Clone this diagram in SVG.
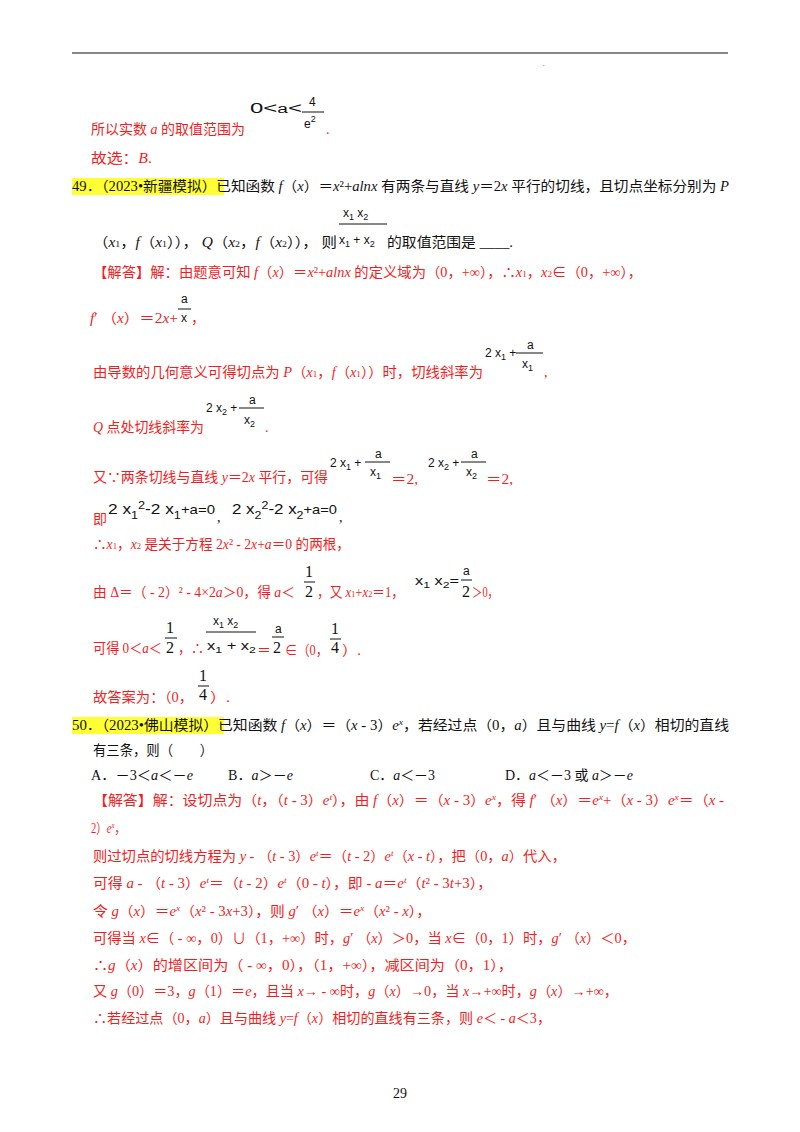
<svg xmlns="http://www.w3.org/2000/svg" width="800" height="1132" viewBox="0 0 800 1132">
<style>
text{font-family:"Liberation Serif","Noto Sans CJK SC",serif;font-size:14px}
.r{fill:#f01e1e}
.k{fill:#111}
.m{font-family:"Liberation Sans",sans-serif;font-size:12px;fill:#111}
.b{font-family:"Liberation Sans",sans-serif;font-size:15px;fill:#111}
.n{font-family:"Liberation Serif",serif;font-size:16px;fill:#111}
.sub{font-size:9px}
.i{font-style:italic}
line.f{stroke:#111;stroke-width:1}
</style>
<rect width="800" height="1132" fill="#fff"/>
<line x1="72" y1="53" x2="728" y2="53" stroke="#111" stroke-width="1.2"/>
<text x="543" y="66" style="font-size:6px" class="k">.</text>

<g id="prev">
<text x="250" y="113" class="b" textLength="52" lengthAdjust="spacingAndGlyphs">0&lt;<tspan font-size="12">a</tspan>&lt;</text>
<text x="309" y="106" class="m">4</text>
<line class="f" x1="302" y1="112" x2="324" y2="112"/>
<text x="304" y="128" class="m">e<tspan dy="-6" font-size="9">2</tspan></text>
<text x="91" y="134" class="r" textLength="154" lengthAdjust="spacingAndGlyphs">所以实数 <tspan class="i">a</tspan> 的取值范围为</text>
<text x="326" y="134" class="r">.</text>
<text x="91" y="163" class="r" textLength="61" lengthAdjust="spacingAndGlyphs">故选：<tspan class="i">B</tspan>.</text>
</g>

<g id="q49">
<rect x="72" y="178" width="152" height="17" fill="#ffff33"/>
<text x="72" y="191" class="k" textLength="657" lengthAdjust="spacingAndGlyphs">49．（2023•新疆模拟）已知函数 <tspan class="i">f</tspan>（<tspan class="i">x</tspan>）＝<tspan class="i">x</tspan>²+<tspan class="i">alnx</tspan> 有两条与直线 <tspan class="i">y</tspan>＝2<tspan class="i">x</tspan> 平行的切线，且切点坐标分别为 <tspan class="i">P</tspan></text>
<text x="343" y="217" class="m">x<tspan class="sub" dy="3">1</tspan><tspan dy="-3"> x</tspan><tspan class="sub" dy="3">2</tspan></text>
<line class="f" x1="339" y1="224" x2="387" y2="224"/>
<text x="339" y="244" class="m">x<tspan class="sub" dy="3">1</tspan><tspan dy="-3"> + x</tspan><tspan class="sub" dy="3">2</tspan></text>
<text x="93" y="247" class="k" textLength="244" lengthAdjust="spacingAndGlyphs">（<tspan class="i">x</tspan><tspan class="sub">1</tspan>，<tspan class="i">f</tspan>（<tspan class="i">x</tspan><tspan class="sub">1</tspan>））， <tspan class="i">Q</tspan>（<tspan class="i">x</tspan><tspan class="sub">2</tspan>，<tspan class="i">f</tspan>（<tspan class="i">x</tspan><tspan class="sub">2</tspan>））， 则</text>
<text x="387" y="247" class="k" textLength="126" lengthAdjust="spacingAndGlyphs">的取值范围是 ____.</text>
</g>

<g id="a49">
<text x="93" y="277" class="r" textLength="549" lengthAdjust="spacingAndGlyphs">【解答】解：由题意可知 <tspan class="i">f</tspan>（<tspan class="i">x</tspan>）＝<tspan class="i">x</tspan>²+<tspan class="i">alnx</tspan> 的定义域为（0，+∞），∴<tspan class="i">x</tspan><tspan class="sub">1</tspan>，<tspan class="i">x</tspan><tspan class="sub">2</tspan>∈（0，+∞），</text>
<text x="90" y="323" class="r" textLength="88" lengthAdjust="spacingAndGlyphs"><tspan class="i">f</tspan>′ （<tspan class="i">x</tspan>）＝2<tspan class="i">x</tspan>+</text>
<text x="181" y="303" class="m">a</text>
<line class="f" x1="178" y1="309" x2="191" y2="309"/>
<text x="181" y="322" class="m">x</text>
<text x="191" y="323" class="r">，</text>

<text x="93" y="377" class="r" textLength="390" lengthAdjust="spacingAndGlyphs">由导数的几何意义可得切点为 <tspan class="i">P</tspan>（<tspan class="i">x</tspan><tspan class="sub">1</tspan>，<tspan class="i">f</tspan>（<tspan class="i">x</tspan><tspan class="sub">1</tspan>））时，切线斜率为</text>
<text x="485" y="357" class="m">2 x<tspan class="sub" dy="3">1</tspan><tspan dy="-3"> +</tspan></text>
<text x="527" y="349" class="m">a</text>
<line class="f" x1="516" y1="353" x2="543" y2="353"/>
<text x="522" y="368" class="m">x<tspan class="sub" dy="3">1</tspan></text>
<text x="544" y="377" class="r">,</text>

<text x="93" y="432" class="r" textLength="111" lengthAdjust="spacingAndGlyphs"><tspan class="i">Q</tspan> 点处切线斜率为</text>
<text x="206" y="412" class="m">2 x<tspan class="sub" dy="3">2</tspan><tspan dy="-3"> +</tspan></text>
<text x="249" y="404" class="m">a</text>
<line class="f" x1="239" y1="408" x2="264" y2="408"/>
<text x="244" y="424" class="m">x<tspan class="sub" dy="3">2</tspan></text>
<text x="265" y="432" class="r">.</text>

<text x="93" y="482" class="r" textLength="235" lengthAdjust="spacingAndGlyphs">又∵两条切线与直线 <tspan class="i">y</tspan>＝2<tspan class="i">x</tspan> 平行，可得</text>
<text x="330" y="467" class="m">2 x<tspan class="sub" dy="3">1</tspan><tspan dy="-3"> +</tspan></text>
<text x="375" y="458" class="m">a</text>
<line class="f" x1="365" y1="462" x2="390" y2="462"/>
<text x="370" y="476" class="m">x<tspan class="sub" dy="3">1</tspan></text>
<text x="391" y="484" class="r" textLength="27" lengthAdjust="spacingAndGlyphs">＝2,</text>
<text x="428" y="467" class="m">2 x<tspan class="sub" dy="3">2</tspan><tspan dy="-3"> +</tspan></text>
<text x="471" y="458" class="m">a</text>
<line class="f" x1="461" y1="462" x2="486" y2="462"/>
<text x="466" y="476" class="m">x<tspan class="sub" dy="3">2</tspan></text>
<text x="486" y="484" class="r" textLength="27" lengthAdjust="spacingAndGlyphs">＝2,</text>

<text x="93" y="524" class="r">即</text>
<text x="108" y="514" class="b" textLength="107" lengthAdjust="spacingAndGlyphs">2 x<tspan font-size="11" dy="5">1</tspan><tspan font-size="11" dy="-10">2</tspan><tspan dy="5">-2 x</tspan><tspan font-size="11" dy="5">1</tspan><tspan font-size="13" dy="-5">+a=0</tspan></text>
<text x="217" y="522" class="k">,</text>
<text x="232" y="514" class="b" textLength="105" lengthAdjust="spacingAndGlyphs">2 x<tspan font-size="11" dy="5">2</tspan><tspan font-size="11" dy="-10">2</tspan><tspan dy="5">-2 x</tspan><tspan font-size="11" dy="5">2</tspan><tspan font-size="13" dy="-5">+a=0</tspan></text>
<text x="339" y="522" class="k">,</text>
<text x="93" y="549" class="r" textLength="257" lengthAdjust="spacingAndGlyphs">∴<tspan class="i">x</tspan><tspan class="sub">1</tspan>，<tspan class="i">x</tspan><tspan class="sub">2</tspan> 是关于方程 2<tspan class="i">x</tspan>² - 2<tspan class="i">x</tspan>+<tspan class="i">a</tspan>＝0 的两根，</text>

<text x="93" y="597" class="r" textLength="202" lengthAdjust="spacingAndGlyphs">由 Δ＝（ - 2）² - 4×2<tspan class="i">a</tspan>＞0，得 <tspan class="i">a</tspan>＜</text>
<text x="305" y="577" class="n">1</text>
<line class="f" x1="304" y1="582" x2="315" y2="582"/>
<text x="305" y="597" class="n">2</text>
<text x="317" y="597" class="r" textLength="87" lengthAdjust="spacingAndGlyphs">，又 <tspan class="i">x</tspan><tspan class="sub">1</tspan>+<tspan class="i">x</tspan><tspan class="sub">2</tspan>＝1，</text>
<text x="415" y="585" class="m" textLength="44" lengthAdjust="spacingAndGlyphs">x<tspan class="sub" dy="3">1</tspan><tspan dy="-3"> x</tspan><tspan class="sub" dy="3">2</tspan><tspan dy="-3">=</tspan></text>
<text x="463" y="575" class="m">a</text>
<line class="f" x1="461" y1="580" x2="472" y2="580"/>
<text x="462" y="597" class="n">2</text>
<text x="472" y="597" class="r" textLength="26" lengthAdjust="spacingAndGlyphs">＞0，</text>

<text x="93" y="653" class="r" textLength="69" lengthAdjust="spacingAndGlyphs">可得 0＜<tspan class="i">a</tspan>＜</text>
<text x="166" y="633" class="n">1</text>
<line class="f" x1="165" y1="638" x2="177" y2="638"/>
<text x="166" y="653" class="n">2</text>
<text x="178" y="653" class="r" textLength="26" lengthAdjust="spacingAndGlyphs">，∴</text>
<text x="213" y="625" class="m">x<tspan class="sub" dy="3">1</tspan><tspan dy="-3"> x</tspan><tspan class="sub" dy="3">2</tspan></text>
<line class="f" x1="206" y1="632" x2="256" y2="632"/>
<text x="207" y="650" class="m" textLength="49" lengthAdjust="spacingAndGlyphs">x<tspan class="sub" dy="3">1</tspan><tspan dy="-3"> + x</tspan><tspan class="sub" dy="3">2</tspan></text>
<text x="257" y="655" class="r" textLength="14" lengthAdjust="spacingAndGlyphs">＝</text>
<text x="275" y="633" class="m">a</text>
<line class="f" x1="272" y1="637" x2="284" y2="637"/>
<text x="273" y="653" class="n">2</text>
<text x="285" y="655" class="r" textLength="43" lengthAdjust="spacingAndGlyphs">∈（0，</text>
<text x="331" y="634" class="n">1</text>
<line class="f" x1="330" y1="639" x2="341" y2="639"/>
<text x="331" y="653" class="n">4</text>
<text x="342" y="655" class="r" textLength="19" lengthAdjust="spacingAndGlyphs">）.</text>

<text x="93" y="702" class="r" textLength="100" lengthAdjust="spacingAndGlyphs">故答案为：（0，</text>
<text x="199" y="681" class="n">1</text>
<line class="f" x1="198" y1="686" x2="209" y2="686"/>
<text x="199" y="700" class="n">4</text>
<text x="210" y="702" class="r" textLength="20" lengthAdjust="spacingAndGlyphs">）.</text>
</g>

<g id="q50">
<rect x="72" y="717" width="152" height="17" fill="#ffff33"/>
<text x="72" y="730" class="k" textLength="657" lengthAdjust="spacingAndGlyphs">50．（2023•佛山模拟）已知函数 <tspan class="i">f</tspan>（<tspan class="i">x</tspan>）＝（<tspan class="i">x</tspan> - 3）<tspan class="i">e</tspan><tspan class="sub i" dy="-5">x</tspan><tspan dy="5">，若经过点（0，</tspan><tspan class="i">a</tspan>）且与曲线 <tspan class="i">y</tspan>=<tspan class="i">f</tspan>（<tspan class="i">x</tspan>）相切的直线</text>
<text x="93" y="755" class="k" textLength="120" lengthAdjust="spacingAndGlyphs">有三条，则（　　）</text>
<text x="91" y="780" class="k" textLength="102" lengthAdjust="spacingAndGlyphs">A．－3＜<tspan class="i">a</tspan>＜－<tspan class="i">e</tspan></text>
<text x="228" y="780" class="k" textLength="65" lengthAdjust="spacingAndGlyphs">B．<tspan class="i">a</tspan>＞－<tspan class="i">e</tspan></text>
<text x="370" y="780" class="k" textLength="65" lengthAdjust="spacingAndGlyphs">C．<tspan class="i">a</tspan>＜－3</text>
<text x="505" y="780" class="k" textLength="128" lengthAdjust="spacingAndGlyphs">D．<tspan class="i">a</tspan>＜－3 或 <tspan class="i">a</tspan>＞－<tspan class="i">e</tspan></text>
</g>

<g id="a50">
<text x="93" y="805" class="r" textLength="631" lengthAdjust="spacingAndGlyphs">【解答】解：设切点为（<tspan class="i">t</tspan>，（<tspan class="i">t</tspan> - 3）<tspan class="i">e</tspan><tspan class="sub i" dy="-5">t</tspan><tspan dy="5">），由 </tspan><tspan class="i">f</tspan>（<tspan class="i">x</tspan>）＝（<tspan class="i">x</tspan> - 3）<tspan class="i">e</tspan><tspan class="sub i" dy="-5">x</tspan><tspan dy="5">，得 </tspan><tspan class="i">f</tspan>′ （<tspan class="i">x</tspan>）＝<tspan class="i">e</tspan><tspan class="sub i" dy="-5">x</tspan><tspan dy="5">+（</tspan><tspan class="i">x</tspan> - 3）<tspan class="i">e</tspan><tspan class="sub i" dy="-5">x</tspan><tspan dy="5">＝（</tspan><tspan class="i">x</tspan> -</text>
<text x="91" y="833" class="r" textLength="34" lengthAdjust="spacingAndGlyphs">2）<tspan class="i">e</tspan><tspan class="sub i" dy="-5">x</tspan><tspan dy="5">，</tspan></text>
<text x="93" y="861" class="r" textLength="473" lengthAdjust="spacingAndGlyphs">则过切点的切线方程为 <tspan class="i">y</tspan> - （<tspan class="i">t</tspan> - 3）<tspan class="i">e</tspan><tspan class="sub i" dy="-5">t</tspan><tspan dy="5">＝（</tspan><tspan class="i">t</tspan> - 2）<tspan class="i">e</tspan><tspan class="sub i" dy="-5">t</tspan><tspan dy="5">（</tspan><tspan class="i">x</tspan> - <tspan class="i">t</tspan>），把（0，<tspan class="i">a</tspan>）代入，</text>
<text x="93" y="888" class="r" textLength="399" lengthAdjust="spacingAndGlyphs">可得 <tspan class="i">a</tspan> - （<tspan class="i">t</tspan> - 3）<tspan class="i">e</tspan><tspan class="sub i" dy="-5">t</tspan><tspan dy="5">＝（</tspan><tspan class="i">t</tspan> - 2）<tspan class="i">e</tspan><tspan class="sub i" dy="-5">t</tspan><tspan dy="5">（0 - </tspan><tspan class="i">t</tspan>），即 - <tspan class="i">a</tspan>＝<tspan class="i">e</tspan><tspan class="sub i" dy="-5">t</tspan><tspan dy="5">（</tspan><tspan class="i">t</tspan>² - 3<tspan class="i">t</tspan>+3），</text>
<text x="93" y="916" class="r" textLength="338" lengthAdjust="spacingAndGlyphs">令 <tspan class="i">g</tspan>（<tspan class="i">x</tspan>）＝<tspan class="i">e</tspan><tspan class="sub i" dy="-5">x</tspan><tspan dy="5">（</tspan><tspan class="i">x</tspan>² - 3<tspan class="i">x</tspan>+3），则 <tspan class="i">g</tspan>′ （<tspan class="i">x</tspan>）＝<tspan class="i">e</tspan><tspan class="sub i" dy="-5">x</tspan><tspan dy="5">（</tspan><tspan class="i">x</tspan>² - <tspan class="i">x</tspan>），</text>
<text x="93" y="943" class="r" textLength="543" lengthAdjust="spacingAndGlyphs">可得当 <tspan class="i">x</tspan>∈（ - ∞，0）∪（1，+∞）时，<tspan class="i">g</tspan>′ （<tspan class="i">x</tspan>）＞0，当 <tspan class="i">x</tspan>∈（0，1）时，<tspan class="i">g</tspan>′ （<tspan class="i">x</tspan>）＜0，</text>
<text x="93" y="970" class="r" textLength="420" lengthAdjust="spacingAndGlyphs">∴<tspan class="i">g</tspan>（<tspan class="i">x</tspan>）的增区间为（ - ∞，0），（1，+∞），减区间为（0，1），</text>
<text x="93" y="996" class="r" textLength="525" lengthAdjust="spacingAndGlyphs">又 <tspan class="i">g</tspan>（0）＝3，<tspan class="i">g</tspan>（1）＝<tspan class="i">e</tspan>，且当 <tspan class="i">x</tspan>→ - ∞时，<tspan class="i">g</tspan>（<tspan class="i">x</tspan>）→0，当 <tspan class="i">x</tspan>→+∞时，<tspan class="i">g</tspan>（<tspan class="i">x</tspan>）→+∞，</text>
<text x="93" y="1023" class="r" textLength="458" lengthAdjust="spacingAndGlyphs">∴若经过点（0，<tspan class="i">a</tspan>）且与曲线 <tspan class="i">y</tspan>=<tspan class="i">f</tspan>（<tspan class="i">x</tspan>）相切的直线有三条，则 <tspan class="i">e</tspan>＜ - <tspan class="i">a</tspan>＜3，</text>
</g>
<text x="400" y="1098" class="k" font-size="11" text-anchor="middle">29</text>
</svg>
